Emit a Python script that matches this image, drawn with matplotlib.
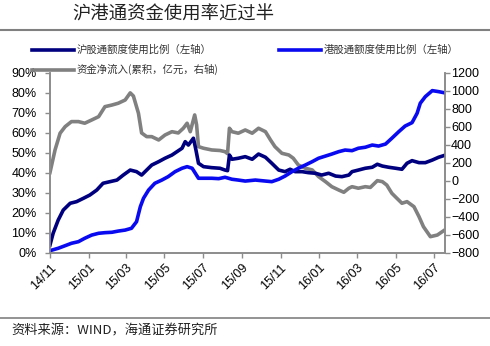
import numpy as np
import pandas as pd
import matplotlib
matplotlib.use('Agg')
import matplotlib.pyplot as plt
import matplotlib.dates as mdates
from matplotlib.ticker import FuncFormatter

plt.rcParams['font.family'] = ['Liberation Sans', 'Noto Sans CJK SC', 'DejaVu Sans']
cjk = ['Noto Sans CJK SC', 'DejaVu Sans']

# 沪股通额度使用比例 (%, left axis)
sh_dates = ['2014-11-17', '2014-11-22', '2014-11-30', '2014-12-08', '2014-12-19', '2014-12-29',
            '2015-01-09', '2015-01-19', '2015-01-30', '2015-02-09', '2015-02-20', '2015-03-03',
            '2015-03-13', '2015-03-24', '2015-04-03', '2015-04-11', '2015-04-19', '2015-04-27',
            '2015-05-08', '2015-05-18', '2015-05-29', '2015-06-06', '2015-06-14', '2015-06-19',
            '2015-06-24', '2015-07-02', '2015-07-06', '2015-07-10', '2015-07-18', '2015-07-31',
            '2015-08-13', '2015-08-21', '2015-08-25', '2015-08-28', '2015-09-01', '2015-09-11',
            '2015-09-22', '2015-10-03', '2015-10-13', '2015-10-24', '2015-11-03', '2015-11-14',
            '2015-11-24', '2015-12-02', '2015-12-10', '2015-12-21', '2015-12-31', '2016-01-11',
            '2016-01-21', '2016-02-01', '2016-02-12', '2016-02-22', '2016-03-04', '2016-03-09',
            '2016-03-19', '2016-03-30', '2016-04-10', '2016-04-18', '2016-04-26', '2016-05-06',
            '2016-05-17', '2016-05-27', '2016-06-04', '2016-06-12', '2016-06-23', '2016-07-03',
            '2016-07-14', '2016-07-24', '2016-08-01']
sh_ratio = [3.8, 9.7, 16.3, 21.3, 24.7, 25.5,
            27.2, 28.8, 31.3, 34.7, 35.5, 36.3,
            38.8, 41.3, 40.5, 38.8, 41.3, 43.8,
            45.5, 47.2, 48.8, 50.5, 52.2, 55.5,
            53.8, 57.2, 51.3, 44.7, 43.0, 42.5,
            42.2, 41.3, 41.0, 48.8, 46.7, 47.2,
            48.0, 46.7, 49.3, 47.7, 44.7, 41.3,
            40.5, 41.7, 40.5, 40.5, 40.0, 39.7,
            38.8, 39.7, 38.3, 38.0, 38.8, 40.5,
            41.3, 42.2, 42.7, 44.2, 43.3, 42.7,
            42.2, 41.7, 44.7, 46.0, 45.0, 45.0,
            46.3, 47.7, 48.5]

# 港股通额度使用比例 (%, left axis)
hk_dates = ['2014-11-17', '2014-11-30', '2014-12-11', '2014-12-21', '2015-01-01', '2015-01-11',
            '2015-01-22', '2015-02-02', '2015-02-12', '2015-02-23', '2015-03-05', '2015-03-16',
            '2015-03-26', '2015-04-03', '2015-04-09', '2015-04-14', '2015-04-22', '2015-05-02',
            '2015-05-13', '2015-05-23', '2015-06-03', '2015-06-14', '2015-06-22', '2015-06-30',
            '2015-07-05', '2015-07-10', '2015-07-21', '2015-07-31', '2015-08-11', '2015-08-21',
            '2015-09-01', '2015-09-11', '2015-09-22', '2015-10-08', '2015-10-24', '2015-11-03',
            '2015-11-14', '2015-11-24', '2015-12-05', '2015-12-15', '2015-12-26', '2016-01-06',
            '2016-01-16', '2016-01-27', '2016-02-06', '2016-02-17', '2016-02-27', '2016-03-09',
            '2016-03-19', '2016-03-30', '2016-04-10', '2016-04-20', '2016-05-01', '2016-05-11',
            '2016-05-22', '2016-06-01', '2016-06-12', '2016-06-20', '2016-06-25', '2016-07-03',
            '2016-07-14', '2016-07-24', '2016-08-01']
hk_ratio = [1.0, 2.2, 3.5, 4.7, 5.5, 7.2,
            8.8, 9.7, 10.0, 10.2, 10.8, 11.3,
            12.2, 15.5, 23.0, 27.2, 31.3, 34.7,
            36.3, 38.0, 40.5, 42.2, 43.0, 42.2,
            39.7, 37.2, 37.2, 37.2, 37.0, 37.7,
            36.7, 36.3, 35.8, 36.3, 35.8, 35.5,
            36.7, 38.3, 40.5, 42.2, 43.8, 45.5,
            47.2, 48.3, 49.3, 50.5, 51.3, 51.0,
            52.2, 52.7, 53.8, 53.3, 54.3, 57.2,
            60.5, 63.3, 65.0, 69.7, 74.7, 78.0,
            81.0, 80.5, 80.0]

# 资金净流入 累积 (亿元, right axis)
flow_dates = ['2014-11-17', '2014-11-25', '2014-12-03', '2014-12-11', '2014-12-21', '2015-01-01',
              '2015-01-11', '2015-01-22', '2015-02-02', '2015-02-12', '2015-02-23', '2015-03-05',
              '2015-03-16', '2015-03-24', '2015-03-29', '2015-04-06', '2015-04-11', '2015-04-19',
              '2015-04-27', '2015-05-08', '2015-05-18', '2015-05-29', '2015-06-08', '2015-06-16',
              '2015-06-22', '2015-06-27', '2015-07-04', '2015-07-07', '2015-07-10', '2015-07-18',
              '2015-07-31', '2015-08-13', '2015-08-21', '2015-08-25', '2015-08-28', '2015-09-01',
              '2015-09-11', '2015-09-22', '2015-10-03', '2015-10-13', '2015-10-24', '2015-11-01',
              '2015-11-08', '2015-11-19', '2015-11-30', '2015-12-07', '2015-12-15', '2015-12-26',
              '2016-01-06', '2016-01-16', '2016-01-27', '2016-02-06', '2016-02-17', '2016-02-25',
              '2016-03-04', '2016-03-09', '2016-03-19', '2016-03-30', '2016-04-07', '2016-04-18',
              '2016-04-26', '2016-05-03', '2016-05-11', '2016-05-19', '2016-05-27', '2016-06-04',
              '2016-06-15', '2016-06-23', '2016-06-30', '2016-07-11', '2016-07-22', '2016-08-01']
net_flow = [90, 341, 527, 600, 656, 656,
            638, 674, 711, 822, 840, 860,
            896, 975, 940, 749, 530, 489,
            489, 452, 507, 544, 530, 582,
            638, 544, 730, 620, 378, 360,
            341, 335, 322, 300, 582, 544,
            527, 563, 527, 582, 544, 452,
            378, 304, 285, 249, 174, 138,
            119, 45, -11, -67, -104, -129,
            -84, -67, -84, -67, -75, 0,
            -11, -49, -140, -196, -251, -233,
            -289, -400, -511, -622, -604, -556]

tick_dates = ['2014-11-17', '2015-01-17', '2015-03-17', '2015-05-17', '2015-07-17', '2015-09-17',
              '2015-11-17', '2016-01-17', '2016-03-17', '2016-05-17', '2016-07-17']

c_sh = '#00007F'
c_hk = '#0A0AF0'
c_flow = '#808080'
c_spine = '#8C8C8C'

fig = plt.figure(figsize=(4.9, 3.46), dpi=100)
ax = fig.add_axes([0.102, 0.2697, 0.806, 0.5204])
ax2 = ax.twinx()

l1, = ax.plot(pd.to_datetime(sh_dates), sh_ratio, color=c_sh, lw=2.6, solid_joinstyle='round')
l2, = ax.plot(pd.to_datetime(hk_dates), hk_ratio, color=c_hk, lw=2.6, solid_joinstyle='round')
l3, = ax2.plot(pd.to_datetime(flow_dates), net_flow, color=c_flow, lw=2.6, solid_joinstyle='round')
ax.set_zorder(ax2.get_zorder() + 1)
ax.patch.set_visible(False)

ax.set_xlim(pd.Timestamp('2014-11-17'), pd.Timestamp('2016-08-03'))
ax.set_ylim(0, 90)
ax.set_yticks(np.arange(0, 91, 10))
ax.yaxis.set_major_formatter(FuncFormatter(lambda v, p: f'{v:.0f}%'))
ax2.set_ylim(-800, 1200)
ax2.set_yticks(np.arange(-800, 1201, 200))

ax.set_xticks(pd.to_datetime(tick_dates))
ax.xaxis.set_major_formatter(mdates.DateFormatter('%y/%m'))
for lab in ax.get_xticklabels():
    lab.set_rotation(45)
    lab.set_ha('right')
    lab.set_rotation_mode('anchor')

for a in (ax, ax2):
    a.spines['top'].set_visible(False)
    for s in ('left', 'right', 'bottom'):
        a.spines[s].set_color(c_spine)
        a.spines[s].set_linewidth(1.2)
    a.tick_params(axis='both', labelsize=9, color=c_spine, length=3.5, width=1)
ax.tick_params(axis='y', pad=6)
ax.tick_params(axis='x', pad=3)
ax2.tick_params(axis='y', pad=1)

leg = fig.legend([l1, l3, l2],
                 ['沪股通额度使用比例（左轴）', '资金净流入(累积，亿元，右轴)', '港股通额度使用比例（左轴）'],
                 loc='upper left', bbox_to_anchor=(0.055, 0.885), ncol=2, frameon=False,
                 prop={'family': cjk, 'size': 7.5}, handlelength=4.0, handletextpad=0.3,
                 labelspacing=0.85, columnspacing=5.8, borderpad=0)
for t in leg.get_texts():
    t.set_color('#333333')

fig.text(0.147, 0.958, '沪港通资金使用率近过半', family=cjk, fontsize=13.2, color='#222222',
         va='center', ha='left')
fig.text(0.024, 0.044, '资料来源：WIND，海通证券研究所', family=cjk, fontsize=9.5, color='#222222',
         va='center', ha='left')
fig.add_artist(plt.Line2D([0, 1], [0.913, 0.913], color='#808080', lw=1.5, transform=fig.transFigure))
fig.add_artist(plt.Line2D([0, 1], [0.081, 0.081], color='#808080', lw=1.2, transform=fig.transFigure))

fig.savefig('out.png', dpi=100)
